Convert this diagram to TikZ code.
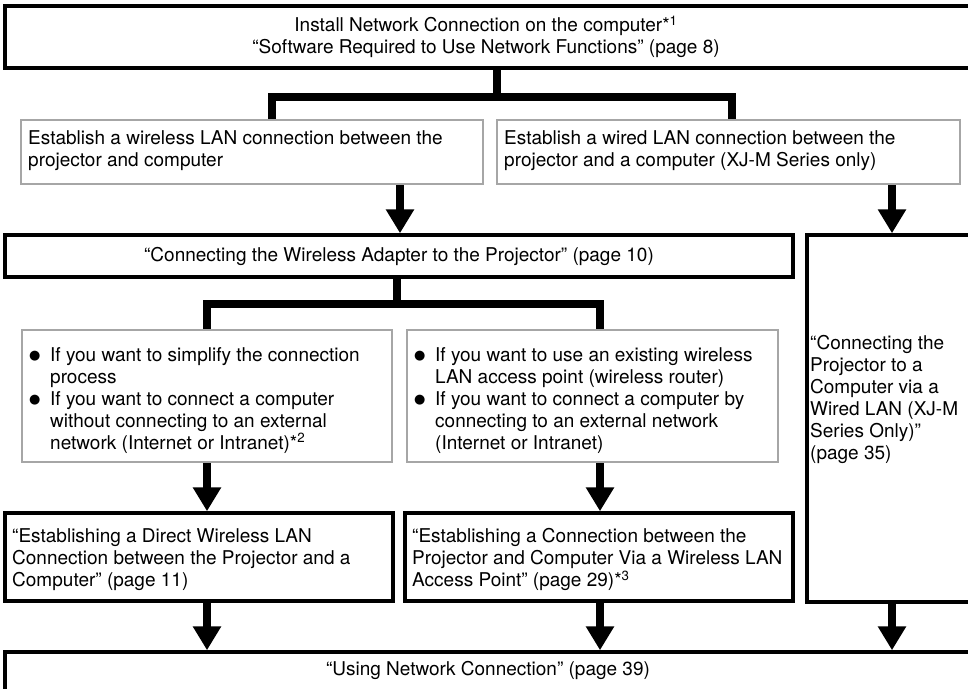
\documentclass[tikz,border=0pt]{standalone}
\usepackage{fontspec}
\setmainfont{TeX Gyre Heros}
\newfontfamily\dejavu{DejaVu Sans}
\usetikzlibrary{arrows.meta,calc}
\newcommand{\bul}{\makebox[21pt][l]{\raisebox{1.2pt}{\dejavu\fontsize{13}{13}\selectfont ●}}}
\newcommand{\ind}{\hspace*{21pt}}
\begin{document}
\begin{tikzpicture}[x=1pt,y=-1pt,
  blk/.style={draw=black,line width=3.5pt,rectangle,inner sep=0pt},
  gry/.style={draw=black!35,line width=2.5pt,rectangle,inner sep=0pt},
  txt/.style={font=\fontsize{19}{22}\selectfont, inner sep=0pt, align=left, anchor=north west},
  ctxt/.style={font=\fontsize{19}{22}\selectfont, inner sep=0pt, align=center},
  conn/.style={line width=8pt, line join=miter, line cap=butt},
  arr/.style={line width=8pt, -{Triangle[width=27pt,length=24pt]}},
]
\useasboundingbox (0,0) rectangle (968,688);
% boxes
\node[blk, minimum width=966pt, minimum height=62pt] (top) at (488,37) {};
\node[gry, minimum width=462pt, minimum height=64pt] (gL) at (252,152) {};
\node[gry, minimum width=463pt, minimum height=64pt] (gR) at (728.5,152) {};
\node[blk, minimum width=788pt, minimum height=42pt] (C) at (399,256) {};
\node[blk, minimum width=164pt, minimum height=367pt] (tall) at (889,418.5) {};
\node[gry, minimum width=370pt, minimum height=132pt] (g3) at (207,396) {};
\node[gry, minimum width=371pt, minimum height=132pt] (g4) at (592.5,396) {};
\node[blk, minimum width=388pt, minimum height=88pt] (A) at (199,557) {};
\node[blk, minimum width=388pt, minimum height=88pt] (B) at (599,557) {};
\node[blk, minimum width=966pt, minimum height=68pt] (bot) at (488,686) {};
% texts
\node[ctxt] (topt) at (486,37) {Install Network Connection on the computer*\textsuperscript{1}\\“Software Required to Use Network Functions” (page 8)};
\node[txt] (gLt) at (28,130) {Establish a wireless LAN connection between the\\projector and computer};
\node[txt] (gRt) at (504,130) {Establish a wired LAN connection between the\\projector and a computer (XJ-M Series only)};
\node[ctxt] (Ct) at (399,256) {“Connecting the Wireless Adapter to the Projector” (page 10)};
\node[txt] (tallt) at (810,335) {“Connecting the\\Projector to a\\Computer via a\\Wired LAN (XJ-M\\Series Only)”\\(page 35)};
\node[txt] (g3t) at (29,347) {\bul If you want to simplify the connection\\\ind process\\\bul If you want to connect a computer\\\ind without connecting to an external\\\ind network (Internet or Intranet)*\textsuperscript{2}};
\node[txt] (g4t) at (414,347) {\bul If you want to use an existing wireless\\\ind LAN access point (wireless router)\\\bul If you want to connect a computer by\\\ind connecting to an external network\\\ind (Internet or Intranet)};
\node[txt] (At) at (12,528) {“Establishing a Direct Wireless LAN\\Connection between the Projector and a\\Computer” (page 11)};
\node[txt] (Bt) at (412,528) {“Establishing a Connection between the\\Projector and Computer Via a Wireless LAN\\Access Point” (page 29)*\textsuperscript{3}};
\node[ctxt] (bott) at (488,670) {“Using Network Connection” (page 39)};
% connectors
\coordinate (j1) at (497,97);
\coordinate (j1l) at (272,97);
\coordinate (j1r) at (732,97);
\draw[conn] (top.south -| j1) -- (j1);
\draw[conn] (gL.north -| j1l) -- (j1l) -- (j1r) -- (gR.north -| j1r);
\coordinate (j2) at (397,304);
\coordinate (j2l) at (207,304);
\coordinate (j2r) at (600,304);
\draw[conn] (C.south -| j2) -- (j2);
\draw[conn] (g3.north -| j2l) -- (j2l) -- (j2r) -- (g4.north -| j2r);
\coordinate (a1) at (400,0);
\coordinate (a2) at (892,0);
\coordinate (a3) at (207,0);
\coordinate (a4) at (600,0);
\draw[arr] (gL.south -| a1) -- (C.north -| a1);
\draw[arr] (gR.south -| a2) -- (tall.north -| a2);
\draw[arr] (g3.south -| a3) -- (A.north -| a3);
\draw[arr] (g4.south -| a4) -- (B.north -| a4);
\draw[arr] (A.south -| a3) -- (bot.north -| a3);
\draw[arr] (B.south -| a4) -- (bot.north -| a4);
\draw[arr] (tall.south -| a2) -- (bot.north -| a2);
\end{tikzpicture}
\end{document}
